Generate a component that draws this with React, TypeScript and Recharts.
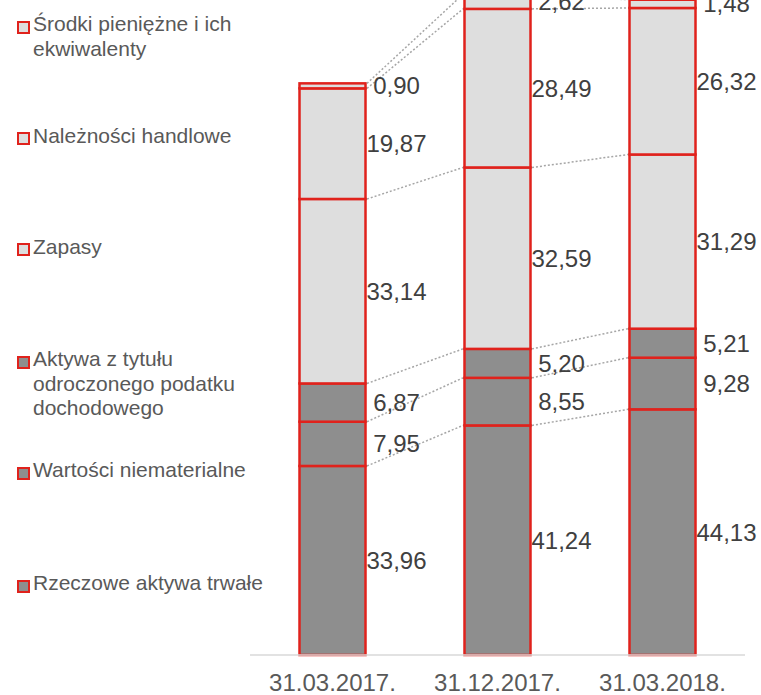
import React from "react";
import { BarChart, Bar, XAxis, YAxis, LabelList } from "recharts";

// dates
const categories = ["31.03.2017.", "31.12.2017.", "31.03.2018."];

// segments from bottom to top
const rzeczowe = [33.96, 41.24, 44.13];
const wartosci = [7.95, 8.55, 9.28];
const aktywaPodatek = [6.87, 5.2, 5.21];
const zapasy = [33.14, 32.59, 31.29];
const naleznosci = [19.87, 28.49, 26.32];
const srodki = [0.9, 2.62, 1.48];

const DARK = "#8e8e8e";
const LIGHT = "#dedede";
const RED = "#e0221c";
const FONT = "'Liberation Sans', Arial, sans-serif";

const series = [
  { key: "rzeczowe", name: "Rzeczowe aktywa trwałe", values: rzeczowe, fill: DARK },
  { key: "wartosci", name: "Wartości niematerialne", values: wartosci, fill: DARK },
  { key: "aktywaPodatek", name: "Aktywa z tytułu odroczonego podatku dochodowego", values: aktywaPodatek, fill: DARK },
  { key: "zapasy", name: "Zapasy", values: zapasy, fill: LIGHT },
  { key: "naleznosci", name: "Należności handlowe", values: naleznosci, fill: LIGHT },
  { key: "srodki", name: "Środki pieniężne i ich ekwiwalenty", values: srodki, fill: LIGHT },
];

const data = categories.map((date, i) => {
  const row: Record<string, string | number> = { date };
  series.forEach((s) => (row[s.key] = s.values[i]));
  return row;
});

// legend text tops (page px), same order as series
const legendTops = [571, 458, 347, 234.5, 123.5, 12];

// top-right corner of the previous bar of each series, for the dotted connectors
const prevEdge: Record<string, { x: number; y: number }> = {};

const makeShape = (key: string, fill: string) => (props: any) => {
  const { x, y, width, height, index } = props;
  const prev = index > 0 ? prevEdge[`${key}-${index - 1}`] : undefined;
  prevEdge[`${key}-${index}`] = { x: x + width, y };
  return (
    <g>
      {prev && (
        <line
          x1={prev.x + 1.5}
          y1={prev.y}
          x2={x - 1.5}
          y2={y}
          stroke="#a6a6a6"
          strokeWidth={1.5}
          strokeDasharray="2 2"
        />
      )}
      <rect x={x} y={y} width={width} height={height} fill={fill} stroke={RED} strokeWidth={2.5} />
    </g>
  );
};

const ValueLabel = (props: any) => {
  const { x, y, width, height, value } = props;
  return (
    <text
      x={x + width + 31}
      y={y + height / 2}
      textAnchor="middle"
      dominantBaseline="central"
      fill="#404040"
      fontSize={24}
      fontFamily={FONT}
    >
      {Number(value).toFixed(2).replace(".", ",")}
    </text>
  );
};

const DateTick = (props: any) => {
  const { x, y, payload } = props;
  return (
    <text
      x={x}
      y={y + 27}
      textAnchor="middle"
      dominantBaseline="central"
      fill="#595959"
      fontSize={24}
      fontFamily={FONT}
    >
      {payload.value}
    </text>
  );
};

export default function App() {
  return (
    <div style={{ position: "absolute", left: 0, top: 0, width: 761, height: 695, overflow: "hidden", background: "#fff" }}>
      <div style={{ position: "absolute", left: 0, top: -20 }}>
        <BarChart
          width={761}
          height={725}
          data={data}
          margin={{ top: 7, right: 16, bottom: 0, left: 250 }}
          barCategoryGap="30%"
        >
          <YAxis hide domain={[0, 120]} />
          <XAxis
            dataKey="date"
            height={50}
            tickLine={false}
            tickSize={0}
            tickMargin={0}
            axisLine={{ stroke: "#d9d9d9", strokeWidth: 1.5 }}
            tick={<DateTick />}
          />
          {series.map((s) => (
            <Bar
              key={s.key}
              dataKey={s.key}
              name={s.name}
              stackId="a"
              fill={s.fill}
              shape={makeShape(s.key, s.fill)}
              isAnimationActive={false}
            >
              <LabelList dataKey={s.key} content={<ValueLabel />} />
            </Bar>
          ))}
        </BarChart>
      </div>
      {series.map((s, i) => (
        <div
          key={s.key}
          style={{
            position: "absolute",
            left: 0,
            top: legendTops[i],
            width: 290,
            fontFamily: FONT,
            fontSize: 21,
            lineHeight: "24.5px",
            color: "#595959",
          }}
        >
          <span
            style={{
              position: "absolute",
              left: 17,
              top: 8.5,
              width: 9,
              height: 9,
              background: s.fill,
              border: `2px solid ${RED}`,
            }}
          />
          <div style={{ marginLeft: 33, width: 248 }}>{s.name}</div>
        </div>
      ))}
    </div>
  );
}
